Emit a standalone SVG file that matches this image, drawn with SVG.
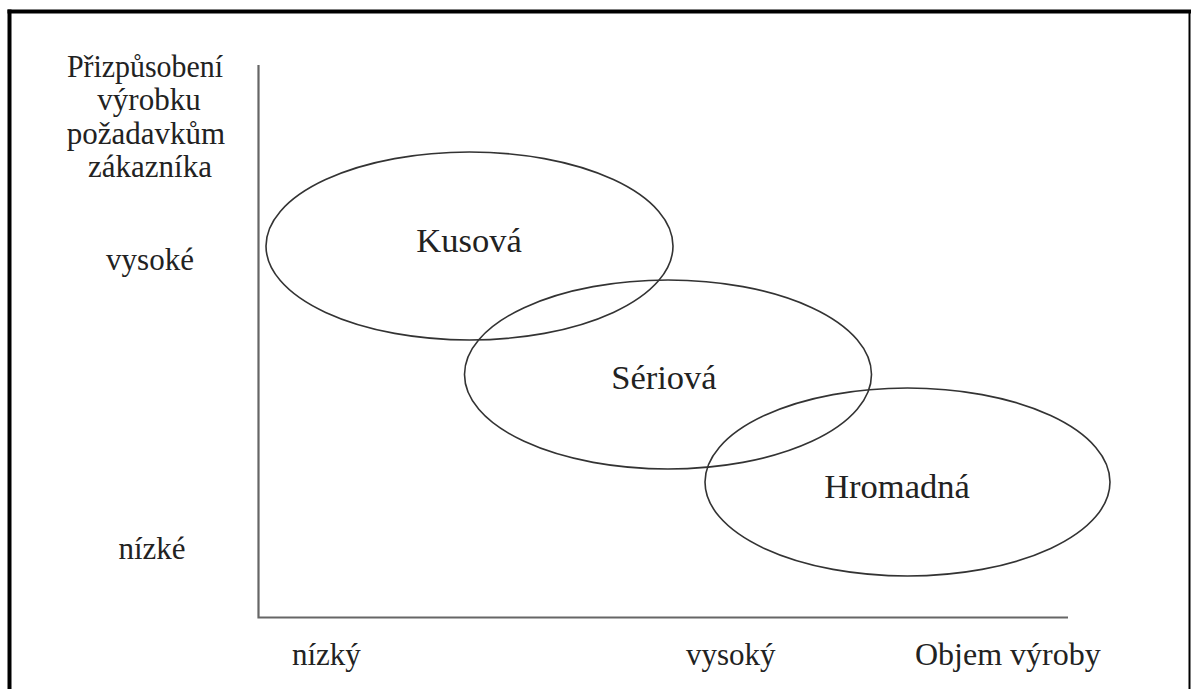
<svg xmlns="http://www.w3.org/2000/svg" width="1192" height="689" viewBox="0 0 1192 689">
<style>
.lbl{font-family:"Liberation Serif","Times New Roman",serif;font-size:31px;fill:#222;}
.big{font-family:"Liberation Serif","Times New Roman",serif;font-size:34.5px;fill:#222;}
.ell{fill:none;stroke:#333;stroke-width:1.6;}
.axis{fill:none;stroke:#666;stroke-width:2.2;}
</style>
<rect width="1192" height="689" fill="#fff"/>
<g id="frame" stroke="#000" fill="none">
<line x1="7.5" y1="11.5" x2="1191" y2="11.5" stroke-width="4"/>
<line x1="9.5" y1="9.5" x2="9.5" y2="689" stroke-width="4"/>
<line x1="1189.5" y1="10" x2="1189.5" y2="689" stroke-width="2"/>
</g>
<g id="connectors">
<polyline class="axis" points="258.5,65 258.5,617.5 1068,617.5"/>
</g>
<g id="y-labels" class="lbl" text-anchor="middle">
<text x="145" y="77" textLength="156" lengthAdjust="spacingAndGlyphs">Přizpůsobení</text>
<text x="149" y="110">výrobku</text>
<text x="146" y="144">požadavkům</text>
<text x="150" y="177">zákazníka</text>
<text x="150" y="270">vysoké</text>
<text x="152" y="559">nízké</text>
</g>
<g id="x-labels" class="lbl">
<text x="292" y="665">nízký</text>
<text x="686" y="665">vysoký</text>
<text x="915" y="665" style="font-size:32px">Objem výroby</text>
</g>
<g id="kusova">
<ellipse class="ell" cx="469.5" cy="246" rx="203.5" ry="94"/>
<text class="big" x="469" y="252" text-anchor="middle">Kusová</text>
</g>
<g id="seriova">
<ellipse class="ell" cx="668" cy="374.5" rx="203.5" ry="94.5"/>
<text class="big" x="664" y="389" text-anchor="middle">Sériová</text>
</g>
<g id="hromadna">
<ellipse class="ell" cx="907.5" cy="482" rx="202.5" ry="94"/>
<text class="big" x="897" y="498" text-anchor="middle">Hromadná</text>
</g>
</svg>
